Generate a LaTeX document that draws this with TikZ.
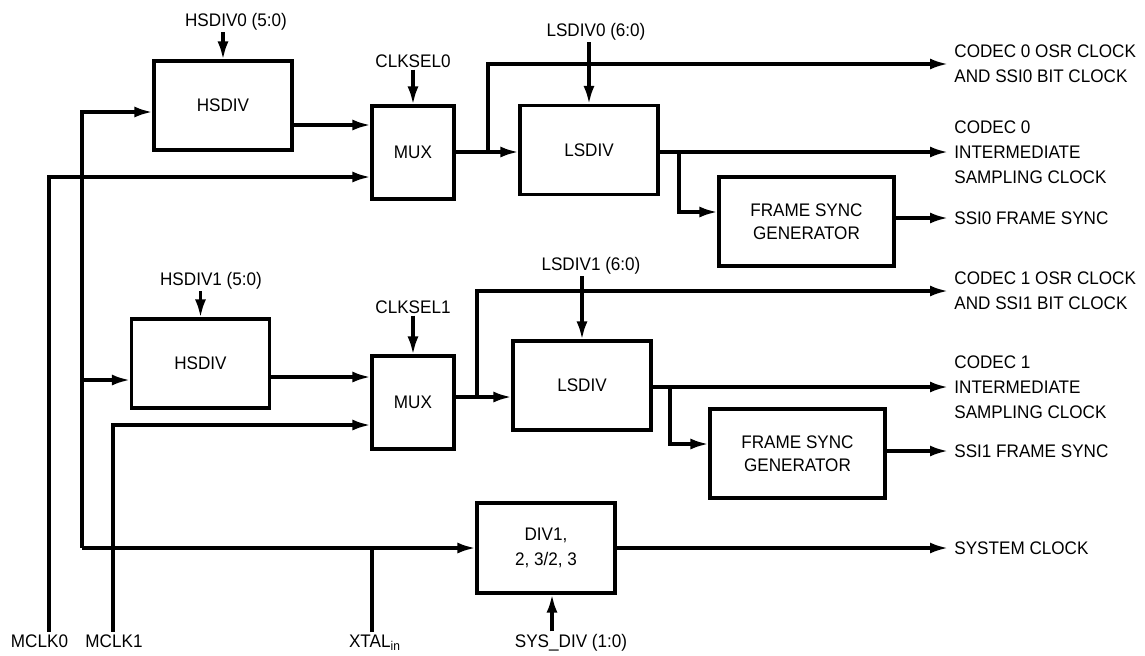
\documentclass[tikz,border=0pt]{standalone}
\usepackage{fontspec}
\setmainfont{Liberation Sans}[FakeStretch=0.94]
\usetikzlibrary{arrows.meta}
\begin{document}
\begin{tikzpicture}[x=0.5pt, y=-0.5pt,
    font=\fontsize{9.1}{12.5}\selectfont,
    wire/.style={line width=1.55pt},
    sig/.style={wire, -{Latex[length=9pt, width=5.5pt]}},
    blk/.style={draw, line width=1.55pt, inner sep=0pt, align=center,
      minimum width=69pt, minimum height=44.5pt},
    mux/.style={blk, minimum width=41pt, minimum height=46.5pt},
    fsg/.style={blk, minimum width=87.5pt, font=\fontsize{9.1}{11.5}\selectfont},
    ctl/.style={inner sep=1pt, anchor=base},
    outlbl/.style={inner sep=3pt, anchor=west, align=left}]
  \useasboundingbox (0, 0) rectangle (1145, 655);

  \node[blk] (hs0) at (223, 105.5) {HSDIV};
  \node[mux] (mux0) at (413, 152.5) {MUX};
  \node[blk] (ls0) at (589, 150) {LSDIV};
  \node[fsg] (fs0) at (806.5, 221.5) {FRAME SYNC\\GENERATOR};
  \node[blk] (hs1) at (200.5, 363.5) {HSDIV};
  \node[mux] (mux1) at (413, 402.5) {MUX};
  \node[blk] (ls1) at (582, 385.5) {LSDIV};
  \node[fsg] (fs1) at (797.5, 453.5) {FRAME SYNC\\GENERATOR};
  \node[blk, minimum height=45pt] (div) at (546, 548) {DIV1,\\2, 3/2, 3};

  \node[ctl] (hsl0) at (236, 26) {HSDIV0 (5:0)};
  \node[ctl] (csl0) at (413, 67) {CLKSEL0};
  \node[ctl] (lsl0) at (596, 36) {LSDIV0 (6:0)};
  \node[ctl] (hsl1) at (211, 285) {HSDIV1 (5:0)};
  \node[ctl] (csl1) at (413, 313) {CLKSEL1};
  \node[ctl] (lsl1) at (591, 270) {LSDIV1 (6:0)};
  \node[ctl] (mclk0) at (39.5, 647) {MCLK0};
  \node[ctl] (mclk1) at (114, 647) {MCLK1};
  \node[ctl] (xtal) at (375, 647) {XTAL\textsubscript{in}};
  \node[ctl] (sysdiv) at (571, 647) {SYS\_DIV (1:0)};

  \node[outlbl] (osr0) at (948, 64) {CODEC 0 OSR CLOCK\\AND SSI0 BIT CLOCK};
  \node[outlbl] (int0) at (948, 152) {CODEC 0\\INTERMEDIATE\\SAMPLING CLOCK};
  \node[outlbl] (fso0) at (948, 218) {SSI0 FRAME SYNC};
  \node[outlbl] (osr1) at (948, 291) {CODEC 1 OSR CLOCK\\AND SSI1 BIT CLOCK};
  \node[outlbl] (int1) at (948, 387) {CODEC 1\\INTERMEDIATE\\SAMPLING CLOCK};
  \node[outlbl] (fso1) at (948, 451) {SSI1 FRAME SYNC};
  \node[outlbl] (sysclk) at (948, 548) {SYSTEM CLOCK};

  \foreach \l/\b in {hsl0/hs0, csl0/mux0, lsl0/ls0, hsl1/hs1, csl1/mux1, lsl1/ls1}
    \draw[sig] (\l.south -| \b.north) -- (\b.north);
  \draw[sig] (sysdiv.north -| 552,0) -- (div.south -| 552,0);

  \coordinate (tap) at (82, 548);
  \draw[sig] (mclk0.north -| 49,0) |- (mux0.west |- 0,177);
  \draw[sig] (mclk1.north -| 113,0) |- (mux1.west |- 0,425);
  \draw[wire] (xtal.north -| 372,0) -- (tap -| 372,0);
  \draw[sig] (tap) -- (div.west);
  \draw[sig] (tap) |- (hs0.west |- 0,112);
  \draw[sig] (82, 380) -- (hs1.west |- 0,380);

  \draw[sig] (hs0.east |- 0,125) -- (mux0.west |- 0,125);
  \draw[sig] (hs1.east |- 0,377) -- (mux1.west |- 0,377);
  \draw[sig] (mux0.east |- 0,152) -- (ls0.west |- 0,152);
  \draw[sig] (mux1.east |- 0,397) -- (ls1.west |- 0,397);
  \draw[sig] (488, 152) |- (osr0.west);
  \draw[sig] (477, 397) |- (osr1.west);
  \draw[sig] (ls0.east |- int0.west) -- (int0.west);
  \draw[sig] (ls1.east |- int1.west) -- (int1.west);
  \draw[sig] (679, 152) |- (fs0.west |- 0,212);
  \draw[sig] (670, 387) |- (fs1.west |- 0,444);
  \draw[sig] (fs0.east |- fso0.west) -- (fso0.west);
  \draw[sig] (fs1.east |- fso1.west) -- (fso1.west);
  \draw[sig] (div) -- (sysclk.west);
\end{tikzpicture}
\end{document}
